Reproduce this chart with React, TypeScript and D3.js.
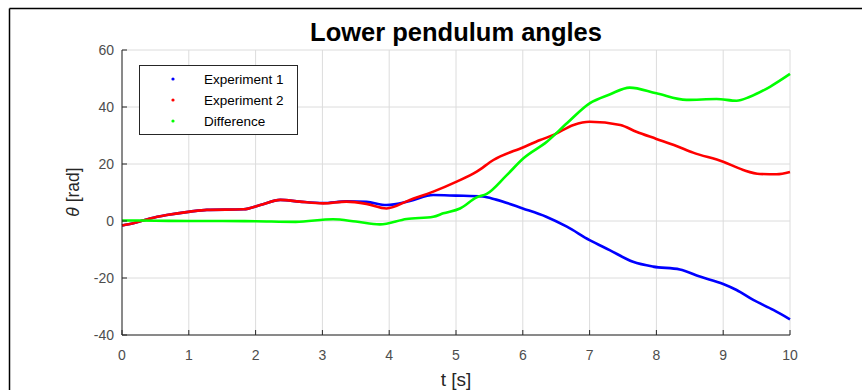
import React from "react";
import * as d3 from "d3";

const blueT = [0, 0.17, 0.42, 0.67, 1.02, 1.27, 1.82, 2.07, 2.37, 2.66, 3.01, 3.36, 3.66, 3.96, 4.31, 4.66, 5.0, 5.4, 5.6, 6.0, 6.35, 6.66, 7.0, 7.3, 7.65, 7.95, 8.35, 8.65, 9.0, 9.2, 9.45, 9.75, 10];
const blueV = [-1.6, -0.8, 0.9, 2.1, 3.3, 3.9, 4.1, 5.6, 7.4, 6.8, 6.3, 6.9, 6.7, 5.6, 7.0, 9.1, 8.9, 8.6, 7.5, 4.4, 1.5, -2, -6.7, -10.2, -14.3, -16, -17, -19.5, -22.1, -24.2, -27.7, -31.2, -34.5];

const redT = [0, 0.17, 0.42, 0.67, 1.02, 1.27, 1.82, 2.07, 2.37, 2.66, 3.01, 3.36, 3.66, 3.96, 4.31, 4.66, 5.01, 5.31, 5.56, 6.01, 6.26, 6.46, 6.76, 7.0, 7.46, 7.7, 8.0, 8.3, 8.55, 9.0, 9.3, 9.55, 9.8, 10];
const redV = [-1.6, -0.8, 0.9, 2.1, 3.3, 3.9, 4.1, 5.6, 7.4, 6.8, 6.2, 6.8, 6.0, 4.4, 7.4, 10.3, 13.8, 17.3, 21.4, 25.9, 28.4, 30.2, 33.7, 34.8, 33.7, 31.3, 28.8, 26.3, 24, 20.8, 17.9, 16.5, 16.4, 17.2];

const greenT = [0, 0.5, 1, 1.5, 2, 2.6, 3.16, 3.5, 3.86, 4.26, 4.66, 4.81, 5.06, 5.31, 5.46, 5.76, 6.01, 6.36, 6.66, 7.0, 7.3, 7.6, 8.0, 8.45, 8.9, 9.2, 9.4, 9.7, 10];
const greenV = [0.2, 0.1, 0, 0, -0.1, -0.3, 0.6, -0.2, -1.2, 0.7, 1.5, 2.7, 4.4, 8.3, 9.5, 16.1, 22, 27.8, 34.3, 41.3, 44.4, 46.8, 44.8, 42.5, 42.8, 42.2, 43.6, 47.1, 51.6];

const xTicks = [0, 1, 2, 3, 4, 5, 6, 7, 8, 9, 10];
const yTicks = [-40, -20, 0, 20, 40, 60];
const seriesNames = ["Experiment 1", "Experiment 2", "Difference"];
const seriesColors = ["#0000ff", "#ff0000", "#00ff00"];

const W = 862, H = 390;
const L = 122, R = 790, T = 50, B = 335;
const FONT = "'Liberation Sans', Arial, Helvetica, sans-serif";

export default function App() {
  const x = d3.scaleLinear().domain([0, 10]).range([L, R]);
  const y = d3.scaleLinear().domain([-40, 60]).range([B, T]);
  const line = d3.line<[number, number]>().x(d => x(d[0])).y(d => y(d[1])).curve(d3.curveMonotoneX);
  const series = [
    blueT.map((t, i) => [t, blueV[i]] as [number, number]),
    redT.map((t, i) => [t, redV[i]] as [number, number]),
    greenT.map((t, i) => [t, greenV[i]] as [number, number]),
  ];
  const axisColor = "#262626";
  const tickTxt = "#4d4d4d";
  return (
    <svg width={W} height={H} style={{ position: "absolute", left: 0, top: 0, background: "#fff" }} fontFamily={FONT}>
      <rect x={0} y={0} width={W} height={H} fill="#fff" />
      <line x1={9.5} y1={8.5} x2={9.5} y2={H} stroke="#000" strokeWidth={1.5} />
      <line x1={9.5} y1={8.5} x2={W} y2={8.5} stroke="#000" strokeWidth={1.5} />
      {/* grid */}
      {xTicks.map(t => (
        <line key={"gx" + t} x1={x(t)} x2={x(t)} y1={T} y2={B} stroke="#dcdcdc" strokeWidth={1} />
      ))}
      {yTicks.map(t => (
        <line key={"gy" + t} x1={L} x2={R} y1={y(t)} y2={y(t)} stroke="#dcdcdc" strokeWidth={1} />
      ))}
      {/* lines */}
      {series.map((s, i) => (
        <path key={i} d={line(s) || ""} fill="none" stroke={seriesColors[i]} strokeWidth={2.6} strokeLinejoin="round" />
      ))}
      {/* axes */}
      <line x1={L} x2={R} y1={B} y2={B} stroke={axisColor} strokeWidth={1} />
      <line x1={L} x2={L} y1={T} y2={B} stroke={axisColor} strokeWidth={1} />
      {xTicks.map(t => (
        <g key={"tx" + t}>
          <line x1={x(t)} x2={x(t)} y1={B} y2={B - 5} stroke={axisColor} />
          <text x={x(t)} y={360} textAnchor="middle" fontSize={14} fill={tickTxt}>{t}</text>
        </g>
      ))}
      {yTicks.map(t => (
        <g key={"ty" + t}>
          <line x1={L} x2={L + 5} y1={y(t)} y2={y(t)} stroke={axisColor} />
          <text x={114} y={y(t) + 5} textAnchor="end" fontSize={14} fill={tickTxt}>{t}</text>
        </g>
      ))}
      {/* title */}
      <text x={(L + R) / 2} y={41} textAnchor="middle" fontSize={25.5} fontWeight="bold" fill="#000">Lower pendulum angles</text>
      <text x={(L + R) / 2} y={386} textAnchor="middle" fontSize={19} fill="#262626">t [s]</text>
      <text transform={`translate(79,192) rotate(-90)`} textAnchor="middle" fontSize={17.5} fill="#262626">
        <tspan fontStyle="italic">θ</tspan> [rad]
      </text>
      {/* legend */}
      <rect x={139.5} y={65.5} width={158} height={69} fill="#fff" stroke="#262626" strokeWidth={1} />
      {seriesNames.map((n, i) => (
        <g key={n}>
          <circle cx={173} cy={79 + i * 21} r={1.6} fill={seriesColors[i]} />
          <text x={204} y={84 + i * 21} fontSize={13.5} fill="#000">{n}</text>
        </g>
      ))}
    </svg>
  );
}
